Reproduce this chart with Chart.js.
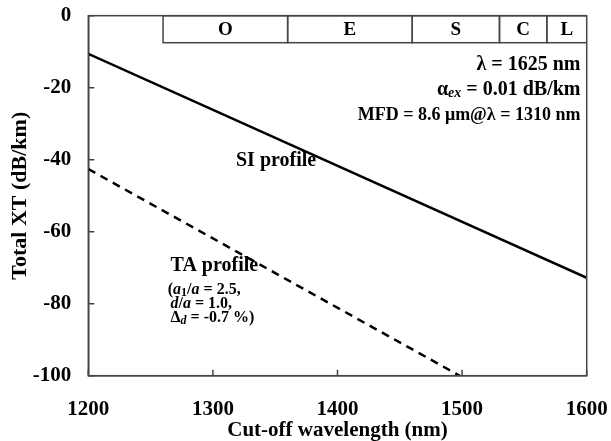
<!DOCTYPE html>
<html>
<head>
<meta charset="utf-8">
<script src="https://cdn.jsdelivr.net/npm/chart.js@4.4.1/dist/chart.umd.min.js"></script>
<style>
  html, body { margin: 0; padding: 0; background: #fff; }
  #wrap { width: 611px; height: 441px; }
</style>
</head>
<body>
<div id="wrap"><canvas id="xtChart" width="611" height="441"></canvas></div>
<script>
// SI profile: total XT vs cut-off wavelength
const siWavelength = [1200, 1600];
const siXT = [-10.6, -72.8];

// TA profile
const taWavelength = [1200, 1498];
const taXT = [-42.6, -100];

// telecom bands along the top (edges in nm)
const bandNames = ['O', 'E', 'S', 'C', 'L'];
const bandEdges = [1260, 1360, 1460, 1530, 1568, 1625];
const bandBottom = -7.5;

const xTicks = [1200, 1300, 1400, 1500, 1600];
const yTicks = [0, -20, -40, -60, -80, -100];

const SERIF = "'Liberation Serif', 'Times New Roman', serif";
const AXIS_COLOR = '#444';

function toPoints(xs, ys) {
    return xs.map((x, i) => ({ x: x, y: ys[i] }));
}

// draw a row of text pieces with different fonts / offsets
function drawRuns(ctx, runs, x, y, align) {
    let total = 0;
    runs.forEach(r => { ctx.font = r.f; total += ctx.measureText(r.t).width; });
    let cx = align === 'right' ? x - total : (align === 'center' ? x - total / 2 : x);
    ctx.textAlign = 'left';
    ctx.textBaseline = 'middle';
    runs.forEach(r => {
        ctx.font = r.f;
        ctx.fillText(r.t, cx, y + (r.dy || 0));
        cx += ctx.measureText(r.t).width;
    });
}

const B = s => 'bold ' + s + 'px ' + SERIF;
const BI = s => 'italic bold ' + s + 'px ' + SERIF;

const decorations = {
    id: 'decorations',
    afterDatasetsDraw(chart) {
        const ctx = chart.ctx;
        const area = chart.chartArea;
        const xs = chart.scales.x;
        const ys = chart.scales.y;
        ctx.save();

        // band boxes
        ctx.save();
        ctx.beginPath();
        ctx.rect(area.left, area.top - 2, area.right - area.left, area.bottom - area.top + 2);
        ctx.clip();
        ctx.strokeStyle = AXIS_COLOR;
        ctx.lineWidth = 1.5;
        ctx.fillStyle = '#000';
        const yTop = ys.getPixelForValue(0);
        const yBot = ys.getPixelForValue(bandBottom);
        for (let i = 0; i < bandNames.length; i++) {
            const x0 = xs.getPixelForValue(bandEdges[i]);
            const x1 = xs.getPixelForValue(bandEdges[i + 1]);
            ctx.strokeRect(x0, yTop, x1 - x0, yBot - yTop);
            const cx = (x0 + Math.min(x1, area.right)) / 2;
            drawRuns(ctx, [{ t: bandNames[i], f: B(19) }], cx, (yTop + yBot) / 2 + 1, 'center');
        }
        ctx.restore();

        // frame and inward ticks
        ctx.strokeStyle = AXIS_COLOR;
        ctx.lineWidth = 1.5;
        ctx.strokeRect(area.left, area.top, area.right - area.left, area.bottom - area.top);
        ctx.beginPath();
        yTicks.forEach(v => {
            const py = ys.getPixelForValue(v);
            ctx.moveTo(area.left, py);
            ctx.lineTo(area.left + 6, py);
        });
        xTicks.forEach(v => {
            const px = xs.getPixelForValue(v);
            ctx.moveTo(px, area.bottom);
            ctx.lineTo(px, area.bottom - 6);
        });
        ctx.stroke();

        // annotations
        ctx.fillStyle = '#000';
        const rx = xs.getPixelForValue(1595);
        drawRuns(ctx, [{ t: 'λ = 1625 nm', f: B(20) }], rx, ys.getPixelForValue(-13.7), 'right');
        drawRuns(ctx, [
            { t: 'α', f: B(20) },
            { t: 'ex', f: BI(14), dy: 4 },
            { t: ' = 0.01 dB/km', f: B(20) }
        ], rx, ys.getPixelForValue(-20.6), 'right');
        drawRuns(ctx, [{ t: 'MFD = 8.6 μm@λ = 1310 nm', f: B(18) }], rx, ys.getPixelForValue(-27.6), 'right');

        drawRuns(ctx, [{ t: 'SI profile', f: B(20) }], xs.getPixelForValue(1350.7), ys.getPixelForValue(-40.4), 'center');

        const tx = xs.getPixelForValue(1266);
        drawRuns(ctx, [{ t: 'TA profile', f: B(20) }], tx, ys.getPixelForValue(-69.5), 'left');
        drawRuns(ctx, [
            { t: '(', f: B(16) },
            { t: 'a', f: BI(16) },
            { t: '1', f: B(12), dy: 3 },
            { t: '/', f: B(16) },
            { t: 'a', f: BI(16) },
            { t: ' = 2.5,', f: B(16) }
        ], xs.getPixelForValue(1263.8), ys.getPixelForValue(-76.2), 'left');
        drawRuns(ctx, [
            { t: 'd', f: BI(16) },
            { t: '/', f: B(16) },
            { t: 'a', f: BI(16) },
            { t: ' = 1.0,', f: B(16) }
        ], xs.getPixelForValue(1266), ys.getPixelForValue(-80.1), 'left');
        drawRuns(ctx, [
            { t: 'Δ', f: B(16) },
            { t: 'd', f: BI(12), dy: 3 },
            { t: ' = -0.7 %)', f: B(16) }
        ], xs.getPixelForValue(1266), ys.getPixelForValue(-84), 'left');

        ctx.restore();
    }
};

const ctx = document.getElementById('xtChart').getContext('2d');
const xtChart = new Chart(ctx, {
    type: 'line',
    data: {
        datasets: [
            {
                label: 'SI profile',
                data: toPoints(siWavelength, siXT),
                borderColor: '#000',
                borderWidth: 2.5,
                pointRadius: 0,
                fill: false
            },
            {
                label: 'TA profile',
                data: toPoints(taWavelength, taXT),
                borderColor: '#000',
                borderWidth: 2.5,
                borderDash: [8, 6],
                pointRadius: 0,
                fill: false
            }
        ]
    },
    options: {
        responsive: false,
        animation: false,
        layout: { padding: { top: 15.7, right: 24.3, left: 0, bottom: 0 } },
        plugins: {
            legend: { display: false },
            tooltip: { enabled: false }
        },
        scales: {
            x: {
                type: 'linear',
                min: 1200,
                max: 1600,
                afterFit: s => { s.height = 65.3; s.paddingLeft = 0; s.paddingRight = 0; },
                afterBuildTicks: s => { s.ticks = xTicks.map(v => ({ value: v })); },
                ticks: {
                    color: '#000',
                    font: { family: SERIF, size: 21, weight: 'bold' },
                    padding: 21,
                    maxRotation: 0,
                    callback: v => String(v)
                },
                grid: { display: true, drawOnChartArea: false, drawTicks: false },
                border: { display: true, color: AXIS_COLOR, width: 1.5 },
                title: {
                    display: true,
                    text: 'Cut-off wavelength (nm)',
                    color: '#000',
                    font: { family: SERIF, size: 21, weight: 'bold', lineHeight: 1 },
                    padding: { top: 0, bottom: 0 }
                }
            },
            y: {
                min: -100,
                max: 0,
                afterFit: s => { s.width = 88.3; s.paddingTop = 0; s.paddingBottom = 0; },
                afterBuildTicks: s => { s.ticks = yTicks.map(v => ({ value: v })); },
                ticks: {
                    color: '#000',
                    font: { family: SERIF, size: 21, weight: 'bold' },
                    padding: 17,
                    callback: v => String(v)
                },
                grid: { display: true, drawOnChartArea: false, drawTicks: false },
                border: { display: true, color: AXIS_COLOR, width: 1.5 },
                title: {
                    display: true,
                    text: 'Total XT (dB/km)',
                    color: '#000',
                    font: { family: SERIF, size: 22, weight: 'bold' },
                    padding: { top: 7, bottom: 0 }
                }
            }
        }
    },
    plugins: [decorations]
});
</script>
</body>
</html>
